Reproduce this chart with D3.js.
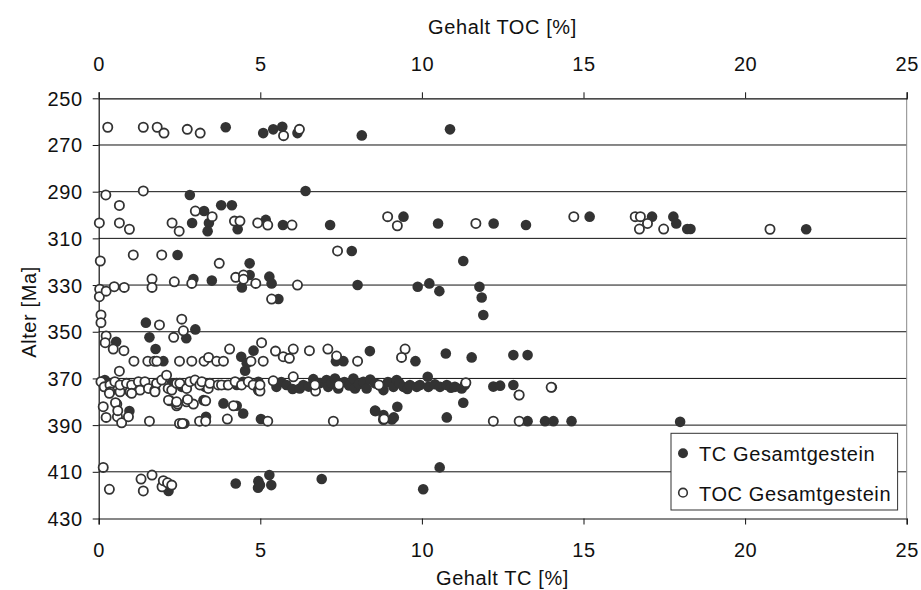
<!DOCTYPE html>
<html>
<head>
<meta charset="utf-8">
<script src="https://cdn.jsdelivr.net/npm/d3@7"></script>
<style>
  body { margin: 0; background: #fff; }
  svg { display: block; font-family: 'Liberation Sans', Arial, sans-serif; letter-spacing: 0.6px; }
</style>
</head>
<body>
<div id="chart"></div>
<script>
// Gehalt TC [%] / Alter [Ma]
const tcPoints = [
  [3.93,262.4],[5.09,264.9],[5.40,263.3],[5.68,262.2],[6.15,264.9],[8.14,265.9],[10.87,263.3],
  [2.82,291.4],[6.40,289.7],[3.26,298.3],[3.79,295.8],[4.12,295.8],[2.89,303.4],[3.41,303.4],
  [3.37,306.9],[4.30,306.1],[5.17,302.1],[5.70,304.3],[7.16,304.3],
  [9.43,300.7],[10.50,303.6],[12.22,303.6],[13.22,304.3],[15.19,300.7],[17.12,300.7],[17.78,300.7],
  [17.87,303.6],[18.21,306],[18.31,306],[21.89,306.1],
  [2.44,317.1],[7.83,315.4],[4.67,320.7],[2.93,327.4],[3.50,328.1],[4.67,325.7],[4.43,331],
  [5.28,326.4],[5.35,329.3],[5.56,336],[8.01,330],
  [11.28,319.7],[9.87,330.7],[10.23,329.3],[10.54,332.6],[11.78,330.7],[11.85,335.3],[11.90,342.8],
  [1.46,346.1],[2.99,349],[1.57,352.4],[2.71,352.8],[0.54,354.3],[1.76,357.4],[2.00,362.6],
  [4.79,358.1],[4.41,360.7],[4.53,366.7],[4.58,363.5],[7.34,362.6],[7.57,362.6],[8.39,358.3],
  [10.74,359.3],[11.54,361],[9.80,362.6],[12.83,360],[13.27,360],
  [0.19,370.7],[2.26,372.1],[2.57,373.6],[3.29,373.6],[3.96,372.8],[4.27,372.8],[4.47,371.4],[4.94,371.4],
  [5.50,373.6],[5.65,371.5],[5.81,372.8],[6.00,374.5],[6.22,374.3],[6.33,372.8],[6.50,373.5],[6.64,370.3],
  [6.85,372],[7.05,370.7],[7.10,373.6],[7.20,372],[7.31,370],[7.41,374.3],[7.60,371.5],[7.75,373],
  [7.88,370],[7.93,374.3],[8.05,372.5],[8.19,371.4],[8.29,374.3],[8.40,370.5],[8.55,372.1],[8.70,373],
  [8.81,375],[8.95,371.5],[9.12,373.6],[9.22,370.7],[9.30,372],[9.43,373.6],[9.55,374.5],[9.63,372.8],
  [9.84,373.6],[9.94,372.8],[10.18,369.3],[10.20,373.6],[10.40,372.5],[10.56,373.6],[10.77,372.8],
  [10.90,374],[11.02,373.6],[11.23,374.3],[11.33,372.8],[12.21,373.5],[12.42,373.1],[12.83,372.8],
  [13.00,377.1],[14.02,373.8],
  [11.28,380.4],[10.77,386.7],[9.24,382.1],[9.13,386.7],[8.55,383.8],[8.81,385.7],[9.07,387.6],
  [0.95,384],[3.24,379.3],[3.32,386.4],[3.86,380.7],[4.27,381.7],[4.47,385],[5.02,387.4],
  [2.65,389.3],[8.56,384],
  [13.27,388.3],[13.81,388.3],[14.07,388.3],[14.63,388.3],[17.99,388.6],
  [10.55,408.1],[10.04,417.5],
  [2.16,418.2],[4.24,415],[4.94,414],[4.93,416.8],[4.99,415.7],[5.28,411.4],[5.34,415.7],[6.90,413.1]
];

// Gehalt TOC [%] / Alter [Ma]
const tocPoints = [
  [0.28,262.4],[1.38,262.4],[1.81,262.4],[2.02,264.9],[2.74,263.3],[3.14,264.9],[5.72,266],[6.21,263.3],
  [0.22,291.4],[1.38,289.7],[0.64,295.9],[0.02,303.4],[0.64,303.4],[0.95,306.1],[2.27,303.4],
  [2.49,306.9],[2.99,298.3],[3.51,300.7],[4.20,302.6],[4.37,302.6],[4.92,303.4],[5.23,304.3],[5.98,304.3],
  [8.94,300.7],[9.24,304.6],[11.67,303.6],[14.70,300.7],[16.60,300.7],[16.76,300.7],[16.98,303.6],
  [16.73,306],[17.48,306],[20.77,306.1],
  [0.05,319.7],[1.07,317.1],[1.95,317.1],[3.73,320.7],[7.39,315.4],[0.03,331.8],[0.02,335],
  [0.23,332.6],[0.48,330.7],[0.79,331],[1.65,327.4],[1.65,331],[2.34,328.6],[2.88,329.3],
  [4.24,326.7],[4.48,325.7],[4.48,327.5],[4.86,329.3],[6.15,330],[5.35,336],[0.07,342.8],
  [0.07,346.1],[1.88,347.1],[2.57,344.6],[2.32,352.4],[2.62,349.6],
  [0.23,351.8],[0.20,354.7],[0.45,357.4],[0.78,358.1],[0.64,366.9],[1.09,362.6],[1.52,362.6],
  [1.72,362.6],[1.80,362.6],[2.50,362.6],[2.88,362.6],[3.26,362.6],[3.40,361],[3.65,362.6],
  [3.86,362.6],[4.05,357.4],[4.71,362.6],[5.04,354.7],[5.09,362.6],[5.47,358.3],[5.71,360.7],
  [5.90,361.4],[6.02,357.4],[6.52,358.1],[7.09,357.4],[7.36,360.4],[8.01,362.6],[9.48,357.4],[9.37,361],
  [0.07,371.4],[0.17,373.6],[0.35,372.8],[0.35,375.7],[0.50,371.4],[0.66,375.7],[0.66,372.8],
  [0.86,372.1],[0.97,375.7],[1.02,372.8],[1.23,371.4],[1.28,375],[1.43,371.4],[1.54,374.3],
  [1.74,375],[1.79,372.1],[1.95,370.7],[2.10,368.6],[2.15,374.3],[2.26,375],[2.41,372.1],
  [2.51,372.1],[2.72,374.3],[2.82,371.4],[2.98,370.7],[3.13,372.8],[3.19,371.4],[3.39,374.3],
  [3.44,372.1],[3.70,372.8],[3.80,372.8],[4.01,372.8],[4.22,371.4],[4.42,372.8],[4.63,371.4],
  [4.78,372.8],[4.94,375],[0.33,376.4],[1.02,376.4],[1.74,375.7],[2.21,379.6],[2.41,381.7],
  [2.72,380],[3.31,379.6],[4.97,375.2],
  [5.40,371],[6.02,369.3],[6.71,375.4],[6.69,372.8],[7.43,372.8],[8.67,372.8],[4.99,375.4],[4.99,372.8],
  [11.36,371.8],[13.01,377.1],[14.00,373.8],
  [0.14,382.1],[0.23,386.7],[0.56,381],[0.58,386.4],[0.71,389],[0.92,386.4],[1.57,388.3],
  [2.16,379.3],[2.44,381],[2.50,389.3],[2.59,389.3],[2.93,381],[3.12,388.3],[3.31,388.3],
  [3.98,387.4],[4.17,381.7],[0.52,380.4],[0.59,383.8],[2.41,380],[2.75,379],
  [5.23,388.3],[7.26,388.3],[8.81,387.6],[8.83,387.4],[12.21,388.3],[13.01,388.3],
  [0.14,408.1],[0.33,417.5],[1.31,413.1],[1.38,418.2],[1.65,411.4],[1.96,416.4],[2.00,413.8],
  [2.13,414.7],[2.26,415.7]
];

const xTicks = [0, 5, 10, 15, 20, 25];
const yTicks = [250, 270, 290, 310, 330, 350, 370, 390, 410, 430];
const seriesNames = ['TC Gesamtgestein', 'TOC Gesamtgestein'];

function AgeCarbonGraph(divID) {
  const widthContainer = 921;
  const heightContainer = 590;
  const margin = {top: 98.3, left: 98.7, right: 14.3, bottom: 71.5};
  const fontSize = '20px';
  const ink = '#333';

  d3.select('#' + divID).selectAll('*').remove();

  const svg = d3.select('#' + divID)
    .append('svg')
    .attr('width', widthContainer)
    .attr('height', heightContainer);

  svg.append('rect')
    .attr('width', widthContainer)
    .attr('height', heightContainer)
    .attr('fill', '#fff');

  const xScaleTC = d3.scaleLinear()
    .domain([0, 25])
    .range([margin.left, widthContainer - margin.right]);

  const xScaleTOC = d3.scaleLinear()
    .domain([0, 25])
    .range([margin.left, widthContainer - margin.right]);

  // age grows downwards
  const yScale = d3.scaleLinear()
    .domain([250, 430])
    .range([margin.top, heightContainer - margin.bottom]);

  // horizontal gridlines
  svg.append('g')
    .selectAll('line')
    .data(yTicks.slice(1, -1))
    .enter()
    .append('line')
    .attr('x1', margin.left)
    .attr('x2', widthContainer - margin.right)
    .attr('y1', d => yScale(d))
    .attr('y2', d => yScale(d))
    .attr('stroke', '#111')
    .attr('stroke-width', 1);

  // right border
  svg.append('line')
    .attr('x1', widthContainer - margin.right)
    .attr('x2', widthContainer - margin.right)
    .attr('y1', margin.top)
    .attr('y2', heightContainer - margin.bottom)
    .attr('stroke', '#888')
    .attr('stroke-width', 1);

  const styleAxis = g => {
    g.style('font-size', fontSize).style('font-family', 'inherit');
    g.select('.domain').attr('stroke', '#111').attr('stroke-width', 1.2);
    g.selectAll('.tick line').attr('stroke', '#111');
    g.selectAll('.tick text').attr('fill', '#111');
  };

  // top axis (TOC)
  svg.append('g')
    .attr('transform', `translate(0, ${margin.top})`)
    .call(d3.axisTop(xScaleTOC).tickValues(xTicks).tickSize(6).tickSizeOuter(6).tickPadding(21.6))
    .call(styleAxis);

  // bottom axis (TC)
  svg.append('g')
    .attr('transform', `translate(0, ${heightContainer - margin.bottom})`)
    .call(d3.axisBottom(xScaleTC).tickValues(xTicks).tickSize(6).tickSizeOuter(6).tickPadding(18.6))
    .call(styleAxis);

  // y-axis
  svg.append('g')
    .attr('transform', `translate(${margin.left}, 0)`)
    .call(d3.axisLeft(yScale).tickValues(yTicks).tickSize(6).tickSizeOuter(0).tickPadding(10))
    .call(styleAxis)
    .selectAll('.tick text')
    .attr('dy', '0.35em');

  // axis labels
  svg.append('text')
    .attr('x', 502.5)
    .attr('y', 34)
    .style('text-anchor', 'middle')
    .style('font-size', fontSize)
    .style('fill', '#111')
    .text('Gehalt TOC [%]');

  svg.append('text')
    .attr('x', 502.5)
    .attr('y', 585)
    .style('text-anchor', 'middle')
    .style('font-size', fontSize)
    .style('fill', '#111')
    .text('Gehalt TC [%]');

  svg.append('text')
    .attr('transform', 'rotate(-90)')
    .attr('x', -312)
    .attr('y', 36)
    .style('text-anchor', 'middle')
    .style('font-size', fontSize)
    .style('fill', '#111')
    .text('Alter [Ma]');

  // TC points (filled)
  svg.append('g')
    .selectAll('circle')
    .data(tcPoints)
    .enter()
    .append('circle')
    .attr('cx', d => xScaleTC(d[0]))
    .attr('cy', d => yScale(d[1]))
    .attr('r', 5.3)
    .attr('fill', ink);

  // TOC points (open), drawn on top
  svg.append('g')
    .selectAll('circle')
    .data(tocPoints)
    .enter()
    .append('circle')
    .attr('cx', d => xScaleTOC(d[0]))
    .attr('cy', d => yScale(d[1]))
    .attr('r', 4.6)
    .attr('fill', '#fff')
    .attr('stroke', ink)
    .attr('stroke-width', 1.8);

  // legend
  const legend = svg.append('g').attr('transform', 'translate(671, 433.3)');

  legend.append('rect')
    .attr('width', 226.6)
    .attr('height', 76.7)
    .attr('fill', '#fff')
    .attr('stroke', '#333')
    .attr('stroke-width', 1);

  const legendItem = legend.selectAll('.legend-item')
    .data(seriesNames)
    .enter()
    .append('g')
    .attr('class', 'legend-item')
    .attr('transform', (d, i) => `translate(0, ${20 + i * 39.4})`);

  legendItem.append('circle')
    .attr('cx', 12)
    .attr('r', (d, i) => i === 0 ? 5 : 4.3)
    .attr('fill', (d, i) => i === 0 ? ink : '#fff')
    .attr('stroke', ink)
    .attr('stroke-width', (d, i) => i === 0 ? 0 : 1.6);

  legendItem.append('text')
    .attr('x', 28)
    .attr('y', 8)
    .style('font-size', fontSize)
    .style('fill', '#111')
    .text(d => d);
}

AgeCarbonGraph('chart');
</script>
</body>
</html>
